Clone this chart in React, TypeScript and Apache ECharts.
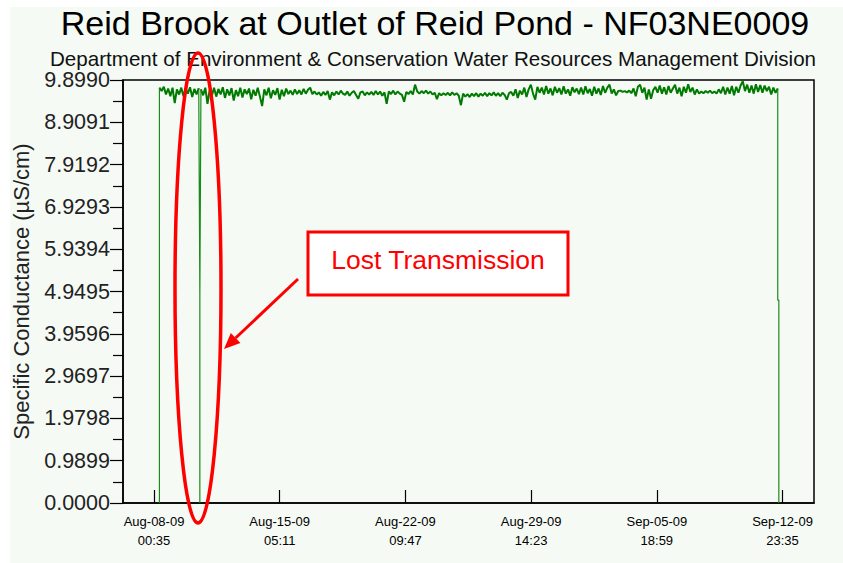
import React, { useEffect, useRef } from 'react';
import * as echarts from 'echarts';

// ---------- data ----------
const TITLE = 'Reid Brook at Outlet of Reid Pond - NF03NE0009';
const SUBTITLE = 'Department of Environment & Conservation Water Resources Management Division';
const Y_NAME = 'Specific Conductance (\u00b5S/cm)';
const CALLOUT = 'Lost Transmission';

const TICK_LABELS = ['Aug-08-09 00:35', 'Aug-15-09 05:11', 'Aug-22-09 09:47', 'Aug-29-09 14:23', 'Sep-05-09 18:59', 'Sep-12-09 23:35'];
const AXIS_START = 'Aug-06-09 05:59';
const AXIS_END = 'Sep-14-09 18:47';
const DATA_START = 'Aug-08-09 08:00';
const STEP_HOURS = 3;

const Y_MIN = 0;
const Y_MAX = 9.899;
const Y_STEP = 0.9899;

// readings before the lost transmission (Aug-08 .. Aug-10)
const readingsAug08 = [9.72, 9.64, 9.74, 9.56, 9.70, 9.52, 9.72, 9.36, 9.68, 9.56, 9.72, 9.52, 9.70, 9.58, 9.73, 9.50, 9.69, 9.56, 9.71];
// lost transmission dip
const gapDip = [4.85, 0, 4.85];
// readings after the gap
const readingsAug10 = [
  9.68, 9.54, 9.72, 9.34, 9.67, 9.53, 9.72, 9.51, 9.69, 9.56, 9.73, 9.48, 9.68, 9.54, 9.71, 9.42, 9.66, 9.52, 9.72, 9.49, 9.68, 9.57, 9.70, 9.45, 9.67, 9.53, 9.72, 9.51,
  9.29, 9.68, 9.54, 9.72, 9.47, 9.66, 9.55, 9.71, 9.44, 9.67, 9.52, 9.70, 9.57, 9.65, 9.55, 9.68, 9.57, 9.66, 9.56, 9.69, 9.58, 9.67, 9.72, 9.57,
  9.63, 9.56, 9.61, 9.53, 9.62, 9.55, 9.64, 9.44, 9.61, 9.54, 9.63, 9.56, 9.65, 9.58, 9.55, 9.63, 9.53, 9.60, 9.64, 9.55, 9.46, 9.61, 9.63, 9.54, 9.61, 9.56,
];
const readingsAug20 = [
  9.62, 9.55, 9.64, 9.56, 9.63, 9.53, 9.61, 9.34, 9.63, 9.57, 9.65, 9.56, 9.63, 9.58, 9.55, 9.39, 9.62, 9.57, 9.64, 9.56, 9.79,
  9.63, 9.58, 9.64, 9.59, 9.65, 9.58, 9.63, 9.56, 9.60, 9.45, 9.59, 9.54, 9.59, 9.55, 9.60, 9.54, 9.61, 9.55, 9.59, 9.53, 9.31,
  9.58, 9.51, 9.57, 9.50, 9.58, 9.52, 9.59, 9.51, 9.58, 9.53, 9.60, 9.52, 9.59, 9.54, 9.61, 9.53, 9.59, 9.52, 9.60, 9.55, 9.44, 9.59,
];
const readingsAug28 = [
  9.62, 9.53, 9.68, 9.48, 9.65, 9.56, 9.72, 9.50, 9.68, 9.79, 9.58, 9.44, 9.74, 9.60, 9.72, 9.56, 9.76, 9.58, 9.70, 9.54, 9.74, 9.60, 9.71, 9.56, 9.75, 9.58, 9.68, 9.53, 9.73, 9.61, 9.70, 9.57,
  9.72, 9.56, 9.75, 9.59, 9.69, 9.53, 9.74, 9.58, 9.70, 9.55, 9.76, 9.60, 9.72, 9.79, 9.58, 9.68, 9.54, 9.64, 9.65, 9.62, 9.64, 9.61, 9.65, 9.59, 9.70, 9.52, 9.74, 9.79,
  9.60, 9.72, 9.44, 9.68, 9.46, 9.66, 9.74, 9.60, 9.77, 9.58, 9.73, 9.56, 9.76, 9.60, 9.70, 9.79, 9.58, 9.72, 9.52, 9.74, 9.60, 9.80, 9.62, 9.72, 9.56, 9.68, 9.58,
];
const readingsSep08 = [
  9.63, 9.59, 9.64, 9.60, 9.65, 9.59, 9.63, 9.58, 9.68, 9.59, 9.74, 9.56, 9.72, 9.58, 9.76, 9.54, 9.74, 9.60, 9.77, 9.87,
  9.64, 9.79, 9.60, 9.77, 9.58, 9.80, 9.62, 9.78, 9.60, 9.77, 9.64, 9.74, 9.56, 9.72, 9.60, 9.70,
];
// final drop at end of record
const endDrop = [4.75, 4.75, 0];

// ---------- helpers ----------
const MONTHS = ['Jan', 'Feb', 'Mar', 'Apr', 'May', 'Jun', 'Jul', 'Aug', 'Sep', 'Oct', 'Nov', 'Dec'];
const HOUR = 3600000;
function parseStamp(s: string): number {
  const [d, t] = s.split(' ');
  const [mon, day, yy] = d.split('-');
  const [hh, mm] = t.split(':');
  return Date.UTC(2000 + Number(yy), MONTHS.indexOf(mon), Number(day), Number(hh), Number(mm));
}
function pad(n: number) { return n < 10 ? '0' + n : String(n); }
function fmt(v: number): string {
  const d = new Date(v);
  return `${MONTHS[d.getUTCMonth()]}-${pad(d.getUTCDate())}-${pad(d.getUTCFullYear() % 100)}\n${pad(d.getUTCHours())}:${pad(d.getUTCMinutes())}`;
}

type Pt = [number, number | string];

function buildSeries(): { band: Pt[]; drops: Pt[] } {
  const t0 = parseStamp(DATA_START);
  const step = STEP_HOURS * HOUR;
  const band: Pt[] = [];
  const drops: Pt[] = [];
  readingsAug08.forEach((v, i) => band.push([t0 + i * step, v]));
  const t18 = t0 + (readingsAug08.length - 1) * step;
  const gapT = t18 + step / 2;
  band.push([gapT, '-']);
  const after = [...readingsAug10, ...readingsAug20, ...readingsAug28, ...readingsSep08];
  const afterT0 = t0 + readingsAug08.length * step;
  after.forEach((v, i) => band.push([afterT0 + i * step, v]));
  const lastT = afterT0 + (after.length - 1) * step;

  // start rise
  drops.push([t0, 0], [t0, readingsAug08[0]], [t0 + step / 4, '-']);
  // lost transmission
  drops.push([t18, readingsAug08[readingsAug08.length - 1]]);
  gapDip.forEach((v) => drops.push([gapT, v]));
  drops.push([afterT0, after[0]], [afterT0 + step / 4, '-']);
  // end of record
  drops.push([lastT, after[after.length - 1]], [lastT, endDrop[0]], [lastT + step / 2, endDrop[1]], [lastT + step / 2, endDrop[2]]);
  return { band, drops };
}

const FONT = 'Liberation Sans, Arial, sans-serif';
const GREEN = '#007a00';

export default function App() {
  const ref = useRef<HTMLDivElement>(null);
  useEffect(() => {
    if (!ref.current) return;
    const chart = echarts.init(ref.current, undefined, { renderer: 'svg' });
    const tickTimes = TICK_LABELS.map(parseStamp);
    const { band, drops } = buildSeries();

    const ex = 198, ey = 288, erx = 23, ery = 235;
    const tip = [224, 349];
    const start = [298, 279];
    const dx = tip[0] - start[0], dy = tip[1] - start[1];
    const len = Math.sqrt(dx * dx + dy * dy);
    const ux = dx / len, uy = dy / len;
    const headL = 16, headW = 7;
    const base = [tip[0] - ux * headL, tip[1] - uy * headL];

    chart.setOption({
      animation: false,
      backgroundColor: '#ffffff',
      textStyle: { fontFamily: FONT },
      grid: {
        left: 123, right: 29, top: 80, bottom: 60,
        show: true, borderColor: '#000', borderWidth: 1.5, backgroundColor: 'transparent',
      },
      xAxis: {
        type: 'value',
        min: parseStamp(AXIS_START),
        max: parseStamp(AXIS_END),
        axisLine: { show: true, lineStyle: { color: '#000', width: 1.5 } },
        axisTick: { show: true, inside: true, length: 13, customValues: tickTimes, lineStyle: { color: '#000', width: 1.2 } },
        axisLabel: {
          customValues: tickTimes,
          formatter: (v: number) => fmt(v),
          fontSize: 13, lineHeight: 19, color: '#000', margin: 9, fontFamily: FONT,
        },
        splitLine: { show: false },
      },
      yAxis: {
        type: 'value',
        min: Y_MIN, max: Y_MAX, interval: Y_STEP,
        name: Y_NAME,
        nameLocation: 'middle',
        nameGap: 91,
        nameTextStyle: { fontSize: 22, color: '#222', fontFamily: FONT },
        axisLine: { show: true, lineStyle: { color: '#000', width: 1.5 } },
        axisTick: { show: true, inside: false, length: 13, lineStyle: { color: '#000', width: 1.2 } },
        minorTick: { show: true, splitNumber: 2, length: 10, lineStyle: { color: '#000', width: 1.2 } },
        axisLabel: {
          formatter: (v: number) => v.toFixed(4),
          fontSize: 21.5, color: '#222', margin: 13, fontFamily: FONT,
        },
        splitLine: { show: false },
      },
      graphic: [
        { type: 'rect', z: -100, silent: true, shape: { x: 10, y: 7, width: 833, height: 556 }, style: { fill: '#f5faf5' } },
        { type: 'text', z: 100, style: { text: TITLE, x: 435, y: 23, align: 'center', verticalAlign: 'middle', fontSize: 34, fontFamily: FONT, fill: '#000' } },
        { type: 'text', z: 100, style: { text: SUBTITLE, x: 433, y: 58, align: 'center', verticalAlign: 'middle', fontSize: 20.6, fontFamily: FONT, fill: '#111' } },
        { type: 'ellipse', z: 100, shape: { cx: ex, cy: ey, rx: erx, ry: ery }, style: { fill: 'none', stroke: '#ff0000', lineWidth: 3.5 } },
        { type: 'rect', z: 100, shape: { x: 308, y: 232, width: 260, height: 63 }, style: { fill: '#ffffff', stroke: '#ff0000', lineWidth: 3 } },
        { type: 'text', z: 101, style: { text: CALLOUT, x: 438, y: 260, align: 'center', verticalAlign: 'middle', fontSize: 26.5, fontFamily: FONT, fill: '#ff0000' } },
        { type: 'line', z: 100, shape: { x1: start[0], y1: start[1], x2: base[0], y2: base[1] }, style: { stroke: '#ff0000', lineWidth: 3 } },
        {
          type: 'polygon', z: 100,
          shape: { points: [tip, [base[0] - uy * headW, base[1] + ux * headW], [base[0] + uy * headW, base[1] - ux * headW]] },
          style: { fill: '#ff0000' },
        },
      ],
      series: [
        {
          type: 'line',
          data: band,
          showSymbol: false,
          symbol: 'none',
          connectNulls: false,
          lineStyle: { color: GREEN, width: 2 },
          itemStyle: { color: GREEN },
        },
        {
          type: 'line',
          data: drops,
          showSymbol: false,
          symbol: 'none',
          connectNulls: false,
          lineStyle: { color: '#1a8a1a', width: 1.2 },
          itemStyle: { color: GREEN },
        },
      ],
    });
    return () => chart.dispose();
  }, []);
  return <div ref={ref} style={{ position: 'absolute', left: 0, top: 0, width: 843, height: 563 }} />;
}
